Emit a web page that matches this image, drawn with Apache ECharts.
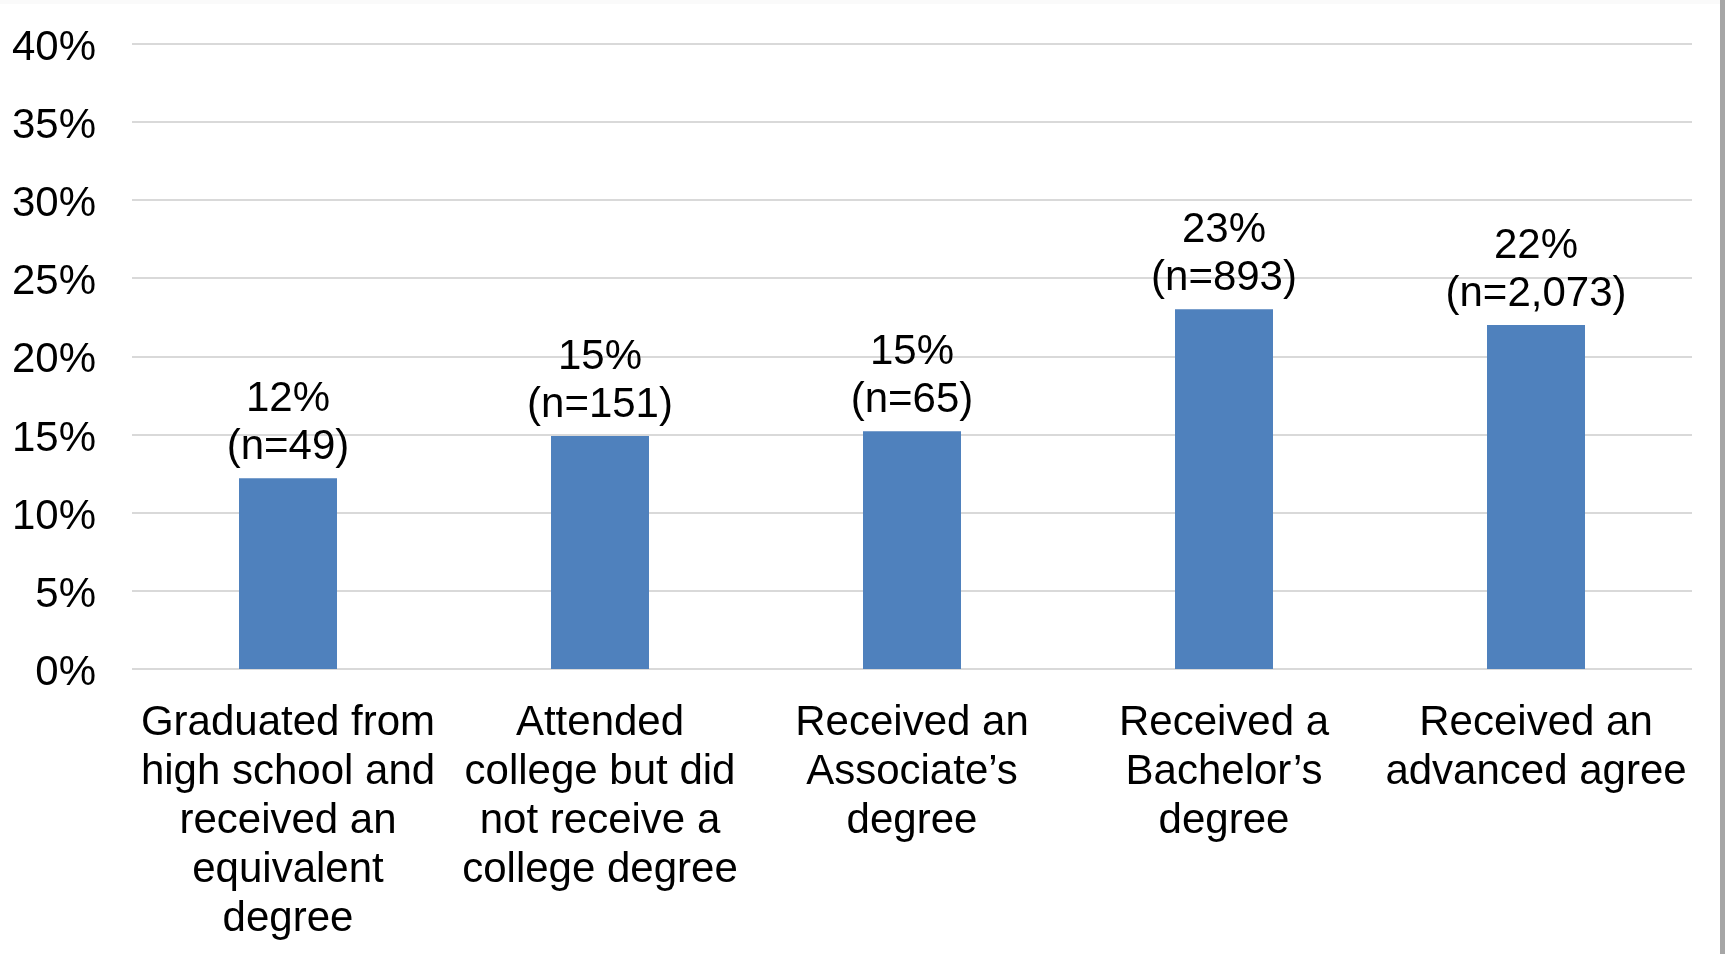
<!DOCTYPE html>
<html>
<head>
<meta charset="utf-8">
<script src="https://cdn.jsdelivr.net/npm/echarts@6/dist/echarts.min.js"></script>
<style>
html,body{margin:0;padding:0;background:#fff;}
#chart{width:1725px;height:954px;}
</style>
</head>
<body>
<div id="chart"></div>
<script>
const categories = [
  "Graduated from\nhigh school and\nreceived an\nequivalent\ndegree",
  "Attended\ncollege but did\nnot receive a\ncollege degree",
  "Received an\nAssociate\u2019s\ndegree",
  "Received a\nBachelor\u2019s\ndegree",
  "Received an\nadvanced agree"
];
const values = [12.2, 14.9, 15.2, 23.0, 22.0];
const pctLabels = ["12%", "15%", "15%", "23%", "22%"];
const nLabels = ["(n=49)", "(n=151)", "(n=65)", "(n=893)", "(n=2,073)"];
const yTicks = [0, 5, 10, 15, 20, 25, 30, 35, 40];

const FONT = '"Liberation Sans", Arial, sans-serif';
const chart = echarts.init(document.getElementById('chart'));
chart.setOption({
  animation: false,
  backgroundColor: '#ffffff',
  grid: { left: 132, right: 33, top: 43.5, bottom: 285, containLabel: false },
  xAxis: {
    type: 'category',
    data: categories,
    axisLine: { show: false },
    axisTick: { show: false },
    axisLabel: {
      interval: 0,
      margin: 30,
      color: '#000',
      fontFamily: FONT,
      fontSize: 42,
      lineHeight: 49,
      align: 'center'
    }
  },
  yAxis: {
    type: 'value',
    min: yTicks[0],
    max: yTicks[yTicks.length - 1],
    interval: 5,
    axisLine: { show: false },
    axisTick: { show: false },
    splitLine: { lineStyle: { color: '#D9D9D9', width: 2 } },
    axisLabel: {
      margin: 36,
      color: '#000',
      fontFamily: FONT,
      fontSize: 42,
      formatter: v => '{t|' + v + '%}',
      rich: {
        t: { fontFamily: FONT, fontSize: 42, color: '#000', padding: [9, 0, 0, 0] }
      }
    }
  },
  series: [{
    type: 'bar',
    data: values,
    barWidth: 98,
    itemStyle: { color: '#4F81BD' },
    label: {
      show: true,
      position: 'top',
      distance: 7,
      color: '#000',
      fontFamily: FONT,
      fontSize: 42,
      lineHeight: 48,
      formatter: p => pctLabels[p.dataIndex] + '\n' + nLabels[p.dataIndex]
    }
  }],
  graphic: [
    { type: 'rect', shape: { x: 1720, y: 0, width: 5, height: 954 }, style: { fill: '#A6A6A6' }, silent: true },
    { type: 'rect', shape: { x: 0, y: 0, width: 1720, height: 4 }, style: { fill: '#FAFAFA' }, silent: true }
  ]
});
</script>
</body>
</html>
